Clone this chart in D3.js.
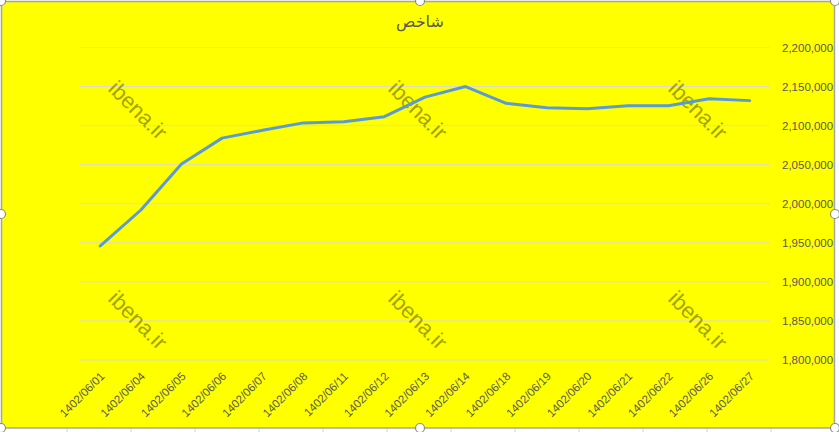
<!DOCTYPE html>
<html>
<head>
<meta charset="utf-8">
<script src="https://cdn.jsdelivr.net/npm/d3@7"></script>
<style>
  body { margin: 0; background: #fff; }
  text { font-family: "Liberation Sans", Arial, sans-serif; }
</style>
</head>
<body>
<script>
// data
var dates = ["1402/06/01", "1402/06/04", "1402/06/05", "1402/06/06", "1402/06/07", "1402/06/08",
             "1402/06/11", "1402/06/12", "1402/06/13", "1402/06/14", "1402/06/18", "1402/06/19",
             "1402/06/20", "1402/06/21", "1402/06/22", "1402/06/26", "1402/06/27"];
var values = [1946000, 1992000, 2051000, 2084000, 2094000, 2103500, 2105000, 2111500, 2136500,
              2150000, 2128500, 2123000, 2121500, 2125500, 2125500, 2134500, 2132000];
var yTicks = [1800000, 1850000, 1900000, 1950000, 2000000, 2050000, 2100000, 2150000, 2200000];
var title = "شاخص";
var watermark = "ibena.ir";

var w = 839, h = 432;
var plotLeft = 80, plotRight = 770, plotTop = 47.5, plotBottom = 360;

var svg = d3.select("body")
    .append("svg")
    .attr("width", w)
    .attr("height", h);

// spreadsheet cell lines under the chart
svg.selectAll("line.cell")
    .data(d3.range(3, 839, 64))
    .enter()
    .append("line")
    .attr("class", "cell")
    .attr("x1", function(d) { return d; })
    .attr("x2", function(d) { return d; })
    .attr("y1", 428)
    .attr("y2", h)
    .attr("stroke", "#d4d4d4");

// chart area
svg.append("rect")
    .attr("x", 1.5).attr("y", 1.5)
    .attr("width", 833).attr("height", 426.5)
    .attr("fill", "#ffff00")
    .attr("stroke", "#a6a6a6")
    .attr("stroke-width", 1.5);

var xScale = d3.scaleBand()
    .domain(dates)
    .range([plotLeft, plotRight]);

var yScale = d3.scaleLinear()
    .domain([1800000, 2200000])
    .range([plotBottom, plotTop]);

// gridlines
svg.selectAll("line.grid")
    .data(yTicks)
    .enter()
    .append("line")
    .attr("class", "grid")
    .attr("x1", plotLeft)
    .attr("x2", plotRight)
    .attr("y1", function(d) { return yScale(d); })
    .attr("y2", function(d) { return yScale(d); })
    .attr("stroke", "#d9d9d9")
    .attr("stroke-width", 1);

// watermarks
var wmX = [138, 418, 698], wmY = [110, 320];
wmY.forEach(function(yy) {
    wmX.forEach(function(xx) {
        svg.append("text")
            .attr("transform", "translate(" + xx + "," + yy + ") rotate(45)")
            .attr("text-anchor", "middle")
            .attr("dy", "0.35em")
            .attr("font-size", 22)
            .attr("fill", "#8c8c00")
            .attr("fill-opacity", 0.8)
            .text(watermark);
    });
});

// right axis
var yAxis = d3.axisRight(yScale)
    .tickValues(yTicks)
    .tickSize(0)
    .tickPadding(0)
    .tickFormat(d3.format(","));

var yG = svg.append("g")
    .attr("transform", "translate(782,0)")
    .call(yAxis);
yG.select(".domain").remove();
yG.selectAll("text")
    .attr("font-size", 11.5)
    .attr("fill", "#595959")
    .style("font-family", "Liberation Sans, Arial, sans-serif");

// bottom axis labels
var xAxis = d3.axisBottom(xScale)
    .tickSize(0)
    .tickPadding(0);

var xG = svg.append("g")
    .attr("transform", "translate(0," + plotBottom + ")")
    .call(xAxis);
xG.select(".domain").remove();
xG.selectAll("text")
    .attr("font-size", 11.5)
    .attr("fill", "#595959")
    .attr("text-anchor", "end")
    .attr("dy", 0)
    .attr("y", 0)
    .attr("transform", "translate(5,17) rotate(-45)")
    .style("font-family", "Liberation Sans, Arial, sans-serif");

// line
var line = d3.line()
    .x(function(d, i) { return xScale(dates[i]) + xScale.bandwidth() / 2; })
    .y(function(d) { return yScale(d); });

svg.append("path")
    .datum(values)
    .attr("d", line)
    .attr("fill", "none")
    .attr("stroke", "#5b9bd5")
    .attr("stroke-width", 3)
    .attr("stroke-linejoin", "round")
    .attr("stroke-linecap", "round");

// title
svg.append("text")
    .attr("x", 420)
    .attr("y", 27)
    .attr("text-anchor", "middle")
    .attr("font-size", 16)
    .attr("fill", "#595959")
    .style("font-family", "DejaVu Sans, sans-serif")
    .text(title);

// selection handles
var handles = [[1, 1], [420, 1], [835, 1], [1, 214], [835, 214], [1, 428], [420, 428], [835, 428]];
svg.selectAll("circle.handle")
    .data(handles)
    .enter()
    .append("circle")
    .attr("class", "handle")
    .attr("cx", function(d) { return d[0]; })
    .attr("cy", function(d) { return d[1]; })
    .attr("r", 4.5)
    .attr("fill", "#fff")
    .attr("stroke", "#8c8c8c")
    .attr("stroke-width", 1.2);
</script>
</body>
</html>
